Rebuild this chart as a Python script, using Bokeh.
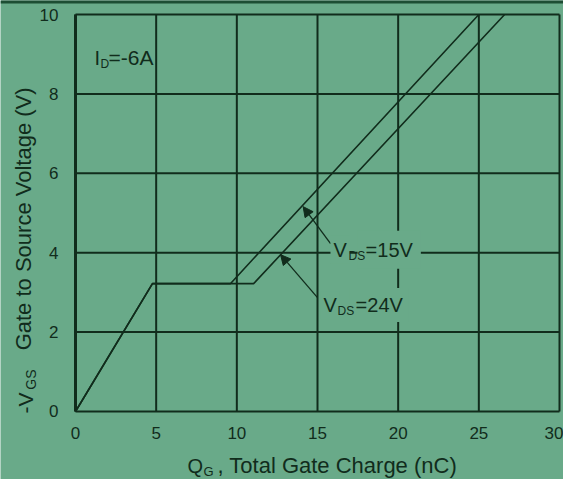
import math
from bokeh.plotting import figure
from bokeh.models import Label, Arrow, NormalHead, Range1d, FixedTicker, LinearAxis, Span
from bokeh.embed import file_html
from bokeh.resources import INLINE

# ---- data ----
qg_15v = [0.0, 4.77, 9.6, 25.0]
vgs_15v = [0.0, 3.22, 3.22, 10.0]
qg_24v = [0.0, 4.77, 11.04, 26.6]
vgs_24v = [0.0, 3.22, 3.22, 10.0]

x_ticks = [0, 5, 10, 15, 20, 25, 30]
y_ticks = [0, 2, 4, 6, 8, 10]
x_lim = (0, 30)
y_lim = (0, 10)

# annotation arrows (data units): tail -> tip
arrow_15v = (15.81, 4.23, 14.11, 5.16)
arrow_24v = (15.00, 2.87, 12.71, 3.95)

BG = "#69aa89"
DARK = "#112c1c"
BAND = "#1d4d33"
FONT = "Liberation Sans"
PX_X = 16.133   # screen px per data unit (x)
PX_Y = 39.7     # screen px per data unit (y)

p = figure(width=563, height=479, output_backend="svg", toolbar_location=None,
           x_range=Range1d(-4.649, 30.248), y_range=Range1d(-1.713, 10.353),
           x_axis_location=None, y_axis_location=None,
           min_border=0)
p.background_fill_color = BG
p.border_fill_color = BG
p.outline_line_color = None
p.xgrid.grid_line_color = None
p.ygrid.grid_line_color = None

# dark band along the top edge of the picture
p.add_layout(Span(location=p.y_range.end, dimension="width", line_color=BAND, line_width=6))

# grid / plot box drawn from the tick lists
p.segment(x0=x_ticks, y0=[y_lim[0]] * len(x_ticks), x1=x_ticks, y1=[y_lim[1]] * len(x_ticks),
          line_color=DARK, line_width=2)
p.segment(x0=[x_lim[0]] * len(y_ticks), y0=y_ticks, x1=[x_lim[1]] * len(y_ticks), y1=y_ticks,
          line_color=DARK, line_width=2)
p.segment(x0=[x_lim[0]], y0=[y_lim[0]], x1=[x_lim[0]], y1=[y_lim[1]], line_color=DARK, line_width=3)

xax = LinearAxis(fixed_location=0, ticker=FixedTicker(ticks=x_ticks))
yax = LinearAxis(fixed_location=0, ticker=FixedTicker(ticks=y_ticks))
for ax in (xax, yax):
    ax.axis_line_color = None
    ax.major_tick_line_color = None
    ax.minor_tick_line_color = None
    ax.major_label_text_font = FONT
    ax.major_label_text_font_size = "17px"
    ax.major_label_text_color = DARK
xax.major_label_standoff = 10
yax.major_label_standoff = 11
p.add_layout(xax, "below")
p.add_layout(yax, "left")

p.line(qg_15v, vgs_15v, line_color=DARK, line_width=1.6)
p.line(qg_24v, vgs_24v, line_color=DARK, line_width=1.6)

for (xs, ys, xe, ye) in (arrow_15v, arrow_24v):
    p.add_layout(Arrow(x_start=xs, y_start=ys, x_end=xe, y_end=ye,
                       line_color=DARK, line_width=1.3,
                       end=NormalHead(size=10, fill_color=DARK, line_color=DARK)))


def lab(text, x, y, size, angle=0.0, bg=None, pad=0):
    shift = 0.38 * size  # baseline correction, px
    if angle:
        x -= shift / PX_X
    else:
        y += shift / PX_Y
    kw = {}
    if bg is not None:
        kw = dict(background_fill_color=bg, padding=pad)
        x -= pad / PX_X
    p.add_layout(Label(x=x, y=y, text=text, text_font=FONT, text_font_size=f"{size}px",
                       text_color=DARK, angle=angle, text_align="left",
                       text_baseline="alphabetic", **kw))


# V_DS = 15V
lab("=15V", 17.98, 3.88, 20, bg=BG, pad=8)
lab("V", 15.99, 3.88, 20, bg=BG, pad=3)
lab("DS", 16.92, 3.80, 12)
# V_DS = 24V
lab("=24V", 17.36, 2.49, 20, bg=BG, pad=6)
lab("V", 15.37, 2.49, 20, bg=BG, pad=3)
lab("DS", 16.24, 2.42, 12)
# I_D = -6A
lab("I", 1.18, 8.72, 20)
lab("D", 1.55, 8.64, 12)
lab("=-6A", 2.05, 8.72, 21)

# x axis title: Q_G , Total Gate Charge (nC)
lab("Q", 6.94, -1.56, 20)
lab("G", 7.93, -1.64, 13)
lab(", Total Gate Charge (nC)", 8.80, -1.56, 22)

# y axis title: -V_GS   Gate to Source Voltage (V)
a = math.pi / 2
lab("-V", -2.60, -0.05, 21, angle=a)
lab("GS", -2.42, 0.55, 14, angle=a)
lab("Gate to Source Voltage (V)", -2.73, 1.54, 22, angle=a)

open("out.html", "w").write(file_html(p, INLINE))
